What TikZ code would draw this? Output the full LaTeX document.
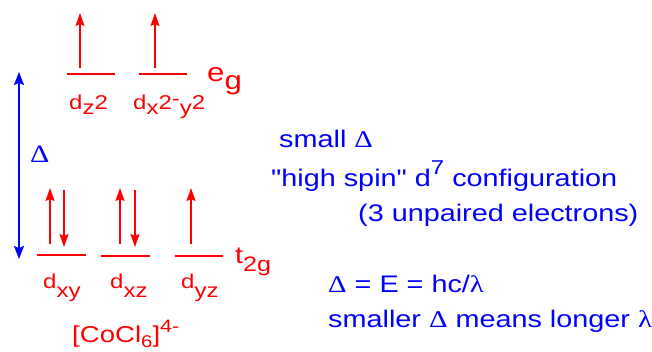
\documentclass[tikz,border=0pt]{standalone}
\usepackage{fontspec}
\setmainfont[FakeStretch=1.2, Ligatures=TeXOff]{Liberation Sans}
\newfontfamily\grk[FakeStretch=1.2]{Liberation Serif}
\usetikzlibrary{arrows.meta}
% lowered / raised pieces of a label, same size
\newcommand{\dn}[2][5pt]{\raisebox{-#1}{#2}}
\newcommand{\up}[2][10pt]{\raisebox{#1}{#2}}
\newcommand{\Dl}{{\grk Δ}}
\newcommand{\lm}{{\grk λ}}
\begin{document}
\begin{tikzpicture}[x=1pt, y=-1pt,
    level/.style={red, line width=1.5pt},
    spinup/.style={red, line width=1.5pt, -{Stealth[length=13pt, width=9pt, inset=2pt]}},
    lbl/.style={red, inner sep=0pt, anchor=base west, font=\fontsize{20}{24}\selectfont},
    note/.style={blue, inner sep=0pt, anchor=base west, font=\fontsize{24}{28}\selectfont}]
    \useasboundingbox (0,0) rectangle (652,352);

    % e_g set (upper)
    \draw[level] (67,74) -- (115,74);
    \draw[level] (139,74) -- (187,74);
    \draw[spinup] (80,68) -- (80,13);
    \draw[spinup] (155,68) -- (155,13);

    % t_2g set (lower)
    \draw[level] (37,255) -- (86,255);
    \draw[level] (101,256) -- (150,256);
    \draw[level] (175,256) -- (223,256);
    \draw[spinup] (50,244) -- (50,188);
    \draw[spinup] (64,190) -- (64,247);
    \draw[spinup] (120,244) -- (120,188);
    \draw[spinup] (135,190) -- (135,247);
    \draw[spinup] (191,244) -- (191,188);

    % splitting Delta
    \coordinate (top) at (19,72);
    \coordinate (bot) at (19,259);
    \draw[blue, line width=1.8pt, {Stealth[length=13pt, width=10pt, inset=2pt]}-{Stealth[length=13pt, width=10pt, inset=2pt]}] (top) -- (bot);
    \node[note, font=\fontsize{25}{28}\selectfont] (delta) at (30,163) {\Dl};

    % orbital labels
    \node[lbl] (dz) at (69,110) {d\dn{z}2};
    \node[lbl] (dx) at (133,110) {d\dn{x}2\up[4pt]{-}\dn{y}2};
    \node[lbl, font=\fontsize{26}{30}\selectfont] (eg) at (207,82) {e\dn[8pt]{g}};
    \node[lbl] (dxy) at (43,288) {d\dn[9pt]{xy}};
    \node[lbl] (dxz) at (110,288) {d\dn[9pt]{xz}};
    \node[lbl] (dyz) at (181,288) {d\dn[9pt]{yz}};
    \node[lbl, font=\fontsize{24}{28}\selectfont] (t2g) at (235,264) {t\dn[8pt]{\fontsize{21}{24}\selectfont 2g}};
    \node[lbl, font=\fontsize{23}{28}\selectfont] (complex) at (72,342)
        {[CoCl\dn[5.5pt]{\fontsize{17}{20}\selectfont 6}]\up{\fontsize{18}{20}\selectfont 4-}};

    % notes
    \node[note] (small) at (279,148) {small \Dl};
    \node[note] (spin) at (271,187) {"high spin" d\up[12pt]{\fontsize{20}{24}\selectfont 7} configuration};
    \node[note] (unpaired) at (358,222) {(3 unpaired electrons)};
    \node[note] (energy) at (328,292) {\Dl{} = E = hc/\lm};
    \node[note] (longer) at (328,327) {smaller \Dl{} means longer \lm};
\end{tikzpicture}
\end{document}
